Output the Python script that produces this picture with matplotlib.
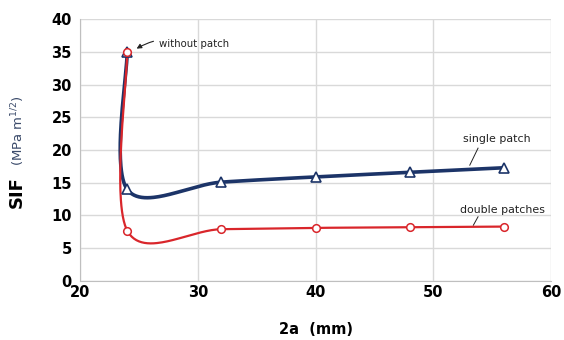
import numpy as np
import matplotlib.pyplot as plt

# crack length 2a (mm) and SIF values
crack_single = [24, 24, 32, 40, 48, 56]
sif_single = [35.0, 14.0, 15.1, 15.9, 16.6, 17.3]

crack_double = [24, 24, 32, 40, 48, 56]
sif_double = [35.0, 7.7, 7.9, 8.1, 8.2, 8.3]

x_ticks = [20, 30, 40, 50, 60]
y_ticks = [0, 5, 10, 15, 20, 25, 30, 35, 40]

navy = "#1c3468"
red = "#d9262b"


def smooth(ax, xs, ys, n=60):
    """Excel-like smoothed line: Catmull-Rom bezier done in pixel space."""
    pts = ax.transData.transform(np.column_stack([xs, ys]))
    out = []
    for i in range(len(pts) - 1):
        p0 = pts[i - 1] if i > 0 else pts[i]
        p1 = pts[i]
        p2 = pts[i + 1]
        p3 = pts[i + 2] if i + 2 < len(pts) else pts[i + 1]
        c1 = p1 + (p2 - p0) / 6
        c2 = p2 - (p3 - p1) / 6
        t = np.linspace(0, 1, n)[:, None]
        seg = ((1 - t) ** 3 * p1 + 3 * (1 - t) ** 2 * t * c1
               + 3 * (1 - t) * t ** 2 * c2 + t ** 3 * p2)
        out.append(seg)
    out = np.vstack(out)
    return ax.transData.inverted().transform(out).T


fig = plt.figure(figsize=(5.64, 3.4), dpi=100)
ax = fig.add_axes([0.142, 0.174, 0.835, 0.769])
ax.set_xlim(20, 60)
ax.set_ylim(0, 40)

# smoothed curves
sx, sy = smooth(ax, crack_single, sif_single)
ax.plot(sx, sy, color=navy, lw=2.6, zorder=3)
ax.plot(crack_single, sif_single, ls="none", marker="^", ms=7.5,
        mfc="white", mec=navy, mew=1.2, zorder=4)

dx, dy = smooth(ax, crack_double, sif_double)
ax.plot(dx, dy, color=red, lw=1.6, zorder=3)
ax.plot(crack_double, sif_double, ls="none", marker="o", ms=5.5,
        mfc="white", mec=red, mew=1.1, zorder=5)

ax.set_xticks(x_ticks)
ax.set_yticks(y_ticks)
ax.grid(True, color="#d9d9d9", lw=1)
ax.set_axisbelow(True)
for s in ["top", "right"]:
    ax.spines[s].set_visible(False)
for s in ["left", "bottom"]:
    ax.spines[s].set_color("#bfbfbf")
ax.tick_params(length=0, labelsize=10.5)
ax.tick_params(axis="x", pad=3)
ax.tick_params(axis="y", pad=6)
for lab in ax.get_xticklabels() + ax.get_yticklabels():
    lab.set_fontweight("bold")

ax.set_xlabel("2a  (mm)", fontsize=10.5, fontweight="bold", labelpad=16)
fig.text(0.029, 0.435, "SIF", rotation=90, fontsize=13, fontweight="bold",
         ha="center", va="center")
fig.text(0.032, 0.615, "(MPa m$^{1/2}$)", rotation=90, fontsize=9.5,
         color="#3a4a6a", ha="center", va="center")

# annotations
ax.annotate("without patch", xy=(24.6, 35.3), xytext=(26.7, 36.3),
            fontsize=7.3, va="center", ha="left", color="#222222",
            arrowprops=dict(arrowstyle="-|>", color="#222222", lw=0.8,
                            mutation_scale=7,
                            connectionstyle="arc3,rad=0.25"))
ax.text(52.5, 21.3, "single patch", fontsize=7.9, color="#222222")
ax.plot([53.8, 53.1], [20.3, 17.7], color="#222222", lw=0.7)
ax.text(52.3, 10.4, "double patches", fontsize=7.9, color="#222222")
ax.plot([53.8, 53.4], [9.8, 8.5], color="#222222", lw=0.7)

fig.savefig("out.png", dpi=100)
